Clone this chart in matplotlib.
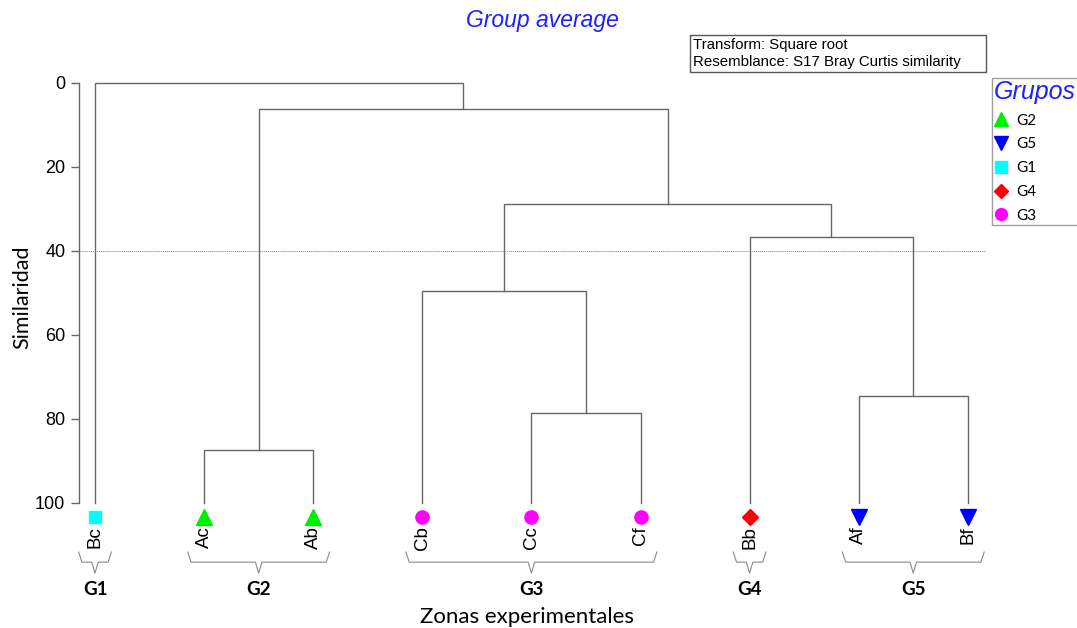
import matplotlib.pyplot as plt
from matplotlib.lines import Line2D
from matplotlib.patches import Rectangle

# Muestras (hojas del dendrograma) en el orden en que se dibujan
leaves = ["Bc", "Ac", "Ab", "Cb", "Cc", "Cf", "Bb", "Af", "Bf"]
leaf_group = ["G1", "G2", "G2", "G3", "G3", "G3", "G4", "G5", "G5"]

# Uniones del cluster (indices estilo linkage: 0-8 hojas, 9+ nodos nuevos)
merge_a = [1, 4, 7, 3, 6, 12, 9, 0]
merge_b = [2, 5, 8, 10, 11, 13, 14, 15]
merge_sim = [87.5, 78.7, 74.6, 49.6, 36.9, 29.0, 6.4, 0.0]

cut_level = 40
groups = ["G1", "G2", "G3", "G4", "G5"]
legend_order = ["G2", "G5", "G1", "G4", "G3"]

group_style = {
    "G1": dict(marker="s", color="#00ffff", ms=9.2),
    "G2": dict(marker="^", color="#00ee00", ms=11),
    "G3": dict(marker="o", color="#ff00ff", ms=9.5),
    "G4": dict(marker="D", color="#ff0000", ms=8),
    "G5": dict(marker="v", color="#0000ff", ms=11),
}

LINE = "#666666"
BLUE = "#1f1fff"
CALIBRI = "Lato"

plt.rcParams["font.family"] = "Liberation Sans"

W, H = 1077, 628
fig = plt.figure(figsize=(W / 100, H / 100), dpi=100)

# eje: hoja i en x = 95 + 109.1*i px, similitud 0 en y=82.5 px, 100 en y=502 px
x0_px, x1_px, y0_px, y1_px = 78.5, 986, 82.5, 502.5
ax = fig.add_axes([x0_px / W, 1 - y1_px / H, (x1_px - x0_px) / W, (y1_px - y0_px) / H])
step = 109.1
ax.set_xlim((x0_px - 95) / step, (x1_px - 95) / step)
ax.set_ylim(100, 0)

for side in ("top", "right", "bottom"):
    ax.spines[side].set_visible(False)
ax.spines["left"].set_color(LINE)
ax.spines["left"].set_linewidth(1.0)
ax.set_xticks([])
ax.set_yticks([0, 20, 40, 60, 80, 100])
ax.tick_params(axis="y", length=6, width=1.0, color=LINE, pad=3.5,
               labelsize=13)

# dendrograma
node_x = list(range(len(leaves)))
node_y = [100.0] * len(leaves)
for a, b, s in zip(merge_a, merge_b, merge_sim):
    ax.plot([node_x[a], node_x[a], node_x[b], node_x[b]],
            [node_y[a], s, s, node_y[b]],
            color=LINE, lw=1.0, clip_on=False, solid_joinstyle="miter")
    node_x.append((node_x[a] + node_x[b]) / 2)
    node_y.append(s)

ax.axhline(cut_level, color="#808080", lw=0.7, linestyle=(0, (1, 1)))

# marcadores y etiquetas de cada muestra
for i, (name, g) in enumerate(zip(leaves, leaf_group)):
    st = group_style[g]
    ax.plot(i, 103.4, linestyle="none", marker=st["marker"], ms=st["ms"],
            color=st["color"], mec=st["color"], clip_on=False)
    ax.text(i, 105.7, name, rotation=90, ha="center", va="top",
            fontsize=13.5, clip_on=False)

# llaves bajo cada grupo
pad = 0.15
for g in groups:
    idx = [i for i, lg in enumerate(leaf_group) if lg == g]
    a, b = idx[0] - pad, idx[-1] + pad
    c = (node_x[idx[0]] + node_x[idx[-1]]) / 2
    d = 0.03
    ax.plot([a, a + d, c - d, c, c + d, b - d, b],
            [111.8, 114.2, 114.2, 116.8, 114.2, 114.2, 111.8],
            color="#8a8a8a", lw=0.8, clip_on=False)
    ax.text(c, 120.7, g, ha="center", va="center", fontsize=13.5,
            fontweight="bold", family=CALIBRI, clip_on=False)

fig.text(527 / W, 1 - 617 / H, "Zonas experimentales", ha="center",
         va="center", fontsize=16, family=CALIBRI)
fig.text(22 / W, 1 - 297 / H, "Similaridad", ha="center", va="center",
         rotation=90, fontsize=15.5, family=CALIBRI)

fig.text(542 / W, 1 - 21 / H, "Group average", ha="center", va="center",
         fontsize=16.5, style="italic", color=BLUE)

# recuadro con la transformacion y la semejanza
fig.add_artist(Rectangle((690 / W, 1 - 72 / H), 296 / W, 37 / H,
                         transform=fig.transFigure, fill=False,
                         edgecolor="#555555", lw=1.0))
fig.text(693 / W, 1 - 44.5 / H, "Transform: Square root", ha="left",
         va="center", fontsize=10.8)
fig.text(693 / W, 1 - 62 / H, "Resemblance: S17 Bray Curtis similarity",
         ha="left", va="center", fontsize=10.8)

handles = [Line2D([], [], linestyle="none", marker=group_style[g]["marker"],
                  color=group_style[g]["color"],
                  ms=group_style[g]["ms"] * 0.9, label=g)
           for g in legend_order]
leg = fig.legend(handles=handles, loc="upper left",
                 bbox_to_anchor=(992 / W, 1 - 78 / H), title="Grupos",
                 alignment="left", frameon=True, fancybox=False,
                 prop={"family": CALIBRI, "size": 11},
                 title_fontproperties={"size": 18, "style": "italic"},
                 labelspacing=0.64, handlelength=1.0, handletextpad=0.45,
                 borderpad=0.12, borderaxespad=0, markerfirst=True)
leg.get_title().set_color(BLUE)
leg.get_frame().set_edgecolor("#888888")
leg.get_frame().set_linewidth(1.0)

fig.savefig("out.png", dpi=100)
